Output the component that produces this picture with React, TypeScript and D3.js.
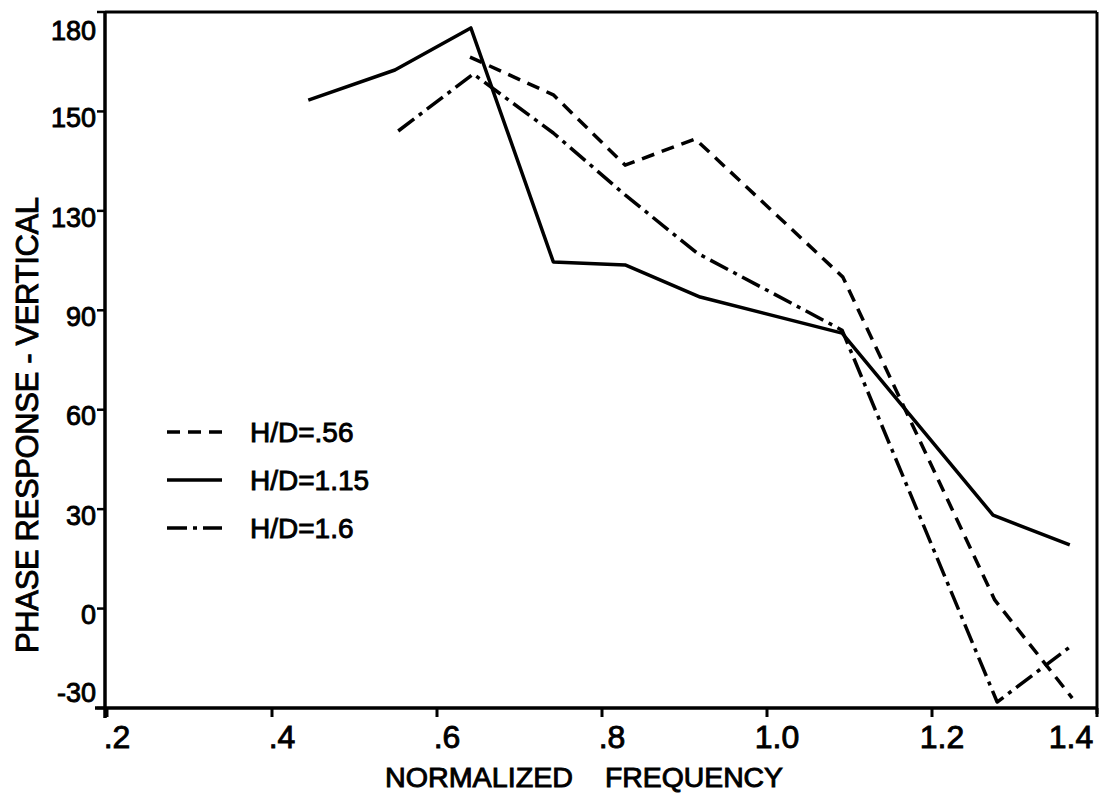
import React from "react";
import * as d3 from "d3";

const xTicks = [0.2, 0.4, 0.6, 0.8, 1.0, 1.2, 1.4];
const xTickLabels = [".2", ".4", ".6", ".8", "1.0", "1.2", "1.4"];
const yTicks = [-30, 0, 30, 60, 90, 120, 150, 180];
const yTickLabels = ["-30", "0", "30", "60", "90", "130", "150", "180"];

const hd056X = [0.64, 0.741, 0.828, 0.913, 1.092, 1.276, 1.37];
const hd056Y = [166.4, 155.0, 133.8, 141.7, 100.0, 2.6, -27.0];

const hd115X = [0.444, 0.549, 0.641, 0.741, 0.828, 0.919, 1.091, 1.274, 1.367];
const hd115Y = [153.4, 162.5, 175.2, 104.6, 103.7, 94.0, 83.1, 28.2, 19.2];

const hd16X = [0.553, 0.644, 0.741, 0.828, 0.915, 1.091, 1.279, 1.367];
const hd16Y = [144.1, 161.3, 143.5, 124.8, 107.3, 84.0, -28.2, -11.6];

const seriesNames = ["H/D=.56", "H/D=1.15", "H/D=1.6"];
const dashes = ["13 8", "none", "20 6 4 6"];

const FONT = "'Liberation Sans', Arial, sans-serif";

export default function App() {
  const W = 1099, H = 795;
  const left = 107, right = 1097, top = 12, bottom = 708;
  const x = d3.scaleLinear().domain([0.2, 1.4]).range([left, right]);
  const y = d3.scaleLinear().domain([-30, 180]).range([bottom, top]);
  const line = d3.line<[number, number]>().x(d => x(d[0])).y(d => y(d[1]));
  const series = [
    d3.zip(hd056X, hd056Y) as [number, number][],
    d3.zip(hd115X, hd115Y) as [number, number][],
    d3.zip(hd16X, hd16Y) as [number, number][],
  ];
  const textStyle = { stroke: "#000", strokeWidth: 0.9 };
  return (
    <svg width={W} height={H} style={{ position: "absolute", left: 0, top: 0, background: "#fff" }}
      fontFamily={FONT}>
      <rect x={0} y={0} width={W} height={H} fill="#fff" />
      {/* frame */}
      <line x1={left - 2} x2={left - 2} y1={top} y2={bottom + 10} stroke="#000" strokeWidth={3.5} />
      <line x1={left - 12} x2={right + 1} y1={bottom} y2={bottom} stroke="#000" strokeWidth={3.5} />
      <line x1={left - 2} x2={right} y1={top} y2={top} stroke="#000" strokeWidth={3} />
      <line x1={right} x2={right} y1={top} y2={bottom + 6} stroke="#000" strokeWidth={3} />
      {/* y ticks */}
      {yTicks.map((v, i) => (
        <g key={"y" + i}>
          <line x1={left - 10} x2={left - 2} y1={y(v)} y2={y(v)} stroke="#000" strokeWidth={2.5} />
          <text x={96} y={Math.max(30, Math.min(692, y(v) + 6))} dy="0.36em" textAnchor="end"
            fontSize={27} fill="#000" style={textStyle}>{yTickLabels[i]}</text>
        </g>
      ))}
      {/* x ticks */}
      {xTicks.map((v, i) => (
        <g key={"x" + i}>
          <line x1={x(v)} x2={x(v)} y1={bottom} y2={bottom + 9} stroke="#000" strokeWidth={3} />
          <text x={Math.min(1071, x(v) + 10)} y={748} textAnchor="middle" fontSize={32} fill="#000"
            style={textStyle}>
            {xTickLabels[i]}
          </text>
        </g>
      ))}
      {/* axis titles */}
      <text x={385} y={787} fontSize={27} textLength={188} lengthAdjust="spacingAndGlyphs" fill="#000"
        style={textStyle}>NORMALIZED</text>
      <text x={605} y={787} fontSize={27} textLength={178} lengthAdjust="spacingAndGlyphs" fill="#000"
        style={textStyle}>FREQUENCY</text>
      <text transform="translate(38,425) rotate(-90)" textAnchor="middle" fontSize={31}
        textLength={456} lengthAdjust="spacing" fill="#000" style={textStyle}>PHASE RESPONSE - VERTICAL</text>
      {/* series */}
      {series.map((s, i) => (
        <path key={"s" + i} d={line(s) || ""} fill="none" stroke="#000" strokeWidth={3.5}
          strokeDasharray={dashes[i]} strokeLinejoin="round" />
      ))}
      {/* legend */}
      {seriesNames.map((n, i) => (
        <g key={"l" + i}>
          <line x1={167} x2={222} y1={432 + i * 48} y2={432 + i * 48} stroke="#000" strokeWidth={3.5}
            strokeDasharray={dashes[i]} />
          <text x={250} y={432 + i * 48} dy="0.36em" fontSize={28} fill="#000" style={textStyle}>{n}</text>
        </g>
      ))}
    </svg>
  );
}
